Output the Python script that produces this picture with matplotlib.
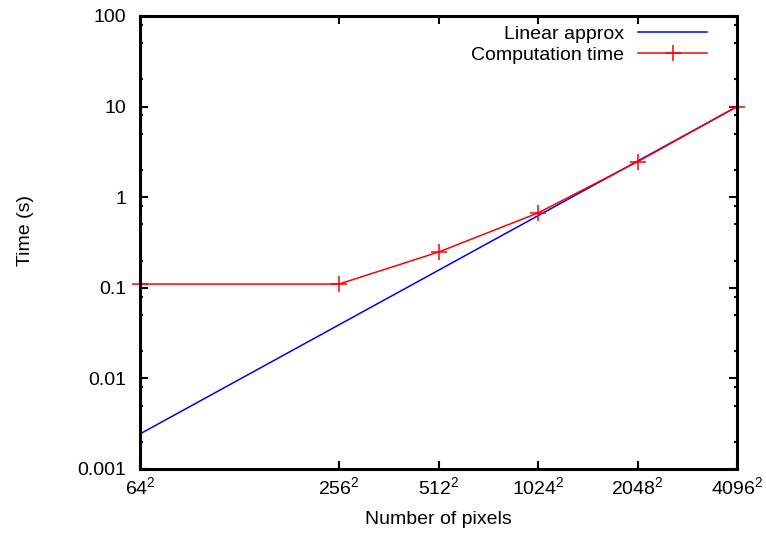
import matplotlib.pyplot as plt
import numpy as np

plt.rcParams['font.family'] = ['Liberation Sans', 'DejaVu Sans']
plt.rcParams['mathtext.default'] = 'regular'

# image side lengths (pixels = side^2)
sides = [64, 256, 512, 1024, 2048, 4096]
comp_time = [0.11, 0.11, 0.248, 0.67, 2.46, 10.0]

# linear approx endpoints
approx_sides = [64, 4096]
approx_time = [0.00244, 10.0]

tick_sides = [64, 256, 512, 1024, 2048, 4096]

fig = plt.figure(figsize=(7.66, 5.40), dpi=100)
ax = fig.add_axes([140 / 766, 71 / 540, 597 / 766, 453 / 540])

px = np.array(sides, dtype=float) ** 2
apx = np.array(approx_sides, dtype=float) ** 2

ax.plot(apx, approx_time, color='#0000ff', linewidth=1.1, label='Linear approx')
ax.plot(px, comp_time, color='#ff0000', linewidth=1.1, marker='+',
        markersize=12, markeredgewidth=1.1, clip_on=False,
        label='Computation time')

ax.set_xscale('log')
ax.set_yscale('log')
ax.set_xlim(64 ** 2, 4096 ** 2)
ax.set_ylim(0.001, 100)

ax.set_xticks([s ** 2 for s in tick_sides])
ax.set_xticklabels([r'$%d^2$' % s for s in tick_sides])
ax.xaxis.set_minor_locator(plt.NullLocator())

ax.set_yticks([0.001, 0.01, 0.1, 1, 10, 100])
ax.set_yticklabels(['0.001', '0.01', '0.1', '1', '10', '100'])
minor = []
for d in [0.001, 0.01, 0.1, 1, 10]:
    for m in [2, 5, 8]:
        minor.append(d * m)
ax.set_yticks(minor, minor=True)
ax.yaxis.set_minor_formatter(plt.NullFormatter())

ax.tick_params(which='both', direction='in', top=True, right=True,
               labelsize=14, width=1.5)
ax.tick_params(axis='x', pad=5)
ax.tick_params(axis='y', pad=10)
ax.tick_params(which='major', length=6)
ax.tick_params(which='minor', length=2.5)

for sp in ax.spines.values():
    sp.set_linewidth(2.2)

ax.set_xlabel('Number of pixels', fontsize=14)
ax.xaxis.set_label_coords(0.5, -(519 - 469) / 453)
ax.xaxis.label.set_va('center')
ax.set_ylabel('Time (s)', fontsize=14)
ax.yaxis.set_label_coords((25 - 140) / 597, (469 - 230) / 453)
ax.yaxis.label.set_va('center')

ax.legend(loc='upper right', bbox_to_anchor=(1 - 14 / 597, 1 + 6 / 453),
          frameon=False, markerfirst=False, fontsize=14,
          handlelength=3.55, borderaxespad=0.4, borderpad=0.4,
          labelspacing=0.15, handletextpad=0.75)

fig.savefig('out.png', dpi=100)
